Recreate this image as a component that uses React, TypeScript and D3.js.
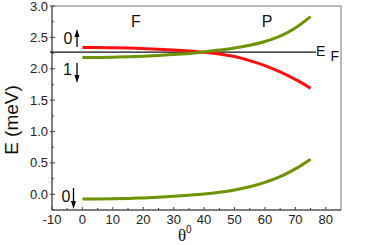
import * as d3 from "d3";

const thetas = [0, 5, 10, 15, 20, 25, 30, 35, 40, 45, 50, 55, 60, 65, 70, 75];
const redUpper = [2.34, 2.34, 2.335, 2.33, 2.322, 2.312, 2.3, 2.285, 2.265, 2.235, 2.195, 2.13, 2.05, 1.95, 1.83, 1.69];
const greenUpper = [2.18, 2.18, 2.185, 2.19, 2.2, 2.212, 2.228, 2.245, 2.268, 2.298, 2.332, 2.375, 2.435, 2.52, 2.65, 2.83];
const greenLower = [-0.075, -0.073, -0.07, -0.065, -0.057, -0.046, -0.032, -0.015, 0.005, 0.033, 0.07, 0.12, 0.19, 0.28, 0.405, 0.56];
const fermiLevel = 2.265;
const xTicks = [-10, 0, 10, 20, 30, 40, 50, 60, 70, 80];
const yTicks = [0, 0.5, 1, 1.5, 2, 2.5, 3];

const width = 371;
const height = 245;
const marginLeft = 52;
const marginRight = 30;
const marginTop = 6;
const marginBottom = 35;
const font = "'Liberation Sans', Arial, sans-serif";

// vertical arrow with a filled head at y2
function Arrow({ x, y1, y2 }: { x: number; y1: number; y2: number }) {
  const dir = y2 > y1 ? 1 : -1;
  const head = 8;
  return (
    <g>
      <line x1={x} x2={x} y1={y1} y2={y2 - dir * head} stroke="#000" strokeWidth={1.3} />
      <path
        d={`M${x - 2.5},${y2 - dir * head} L${x},${y2} L${x + 2.5},${y2 - dir * head} Z`}
        fill="#000"
      />
    </g>
  );
}

export default function App() {
  const x = d3.scaleLinear([-10, 85], [marginLeft, width - marginRight]);
  const y = d3.scaleLinear([-0.25, 3.0], [height - marginBottom, marginTop]);
  const line = d3
    .line<number>()
    .x((d, i) => x(thetas[i]))
    .y((d) => y(d))
    .curve(d3.curveCatmullRom);

  const xMinor = d3.range(-5, 85, 10);
  const yMinor = d3.range(-0.25, 3.0, 0.5);

  return (
    <svg
      width={width}
      height={height}
      style={{ position: "absolute", left: 0, top: 0 }}
      fontFamily={font}
    >
      <rect
        x={x(-10)}
        y={y(3)}
        width={x(85) - x(-10)}
        height={y(-0.25) - y(3)}
        fill="none"
        stroke="#777"
        strokeWidth={1}
      />
      <line x1={x(-10)} x2={x(-10)} y1={y(3)} y2={y(-0.25)} stroke="#444" />
      <line x1={x(-10)} x2={x(85)} y1={y(-0.25)} y2={y(-0.25)} stroke="#444" />
      {xTicks.map((t) => (
        <g key={t}>
          <line x1={x(t)} x2={x(t)} y1={y(-0.25)} y2={y(-0.25) - 3} stroke="#444" />
          <text x={x(t)} y={224} textAnchor="middle" fontSize={13} fill="#222">
            {t}
          </text>
        </g>
      ))}
      {xMinor.map((t) => (
        <line key={t} x1={x(t)} x2={x(t)} y1={y(-0.25)} y2={y(-0.25) - 2} stroke="#444" />
      ))}
      {yTicks.map((t) => (
        <g key={t}>
          <line x1={x(-10) - 2} x2={x(-10) + 3} y1={y(t)} y2={y(t)} stroke="#444" />
          <text x={48} y={y(t) + 4.5} textAnchor="end" fontSize={13} fill="#222">
            {t.toFixed(1)}
          </text>
        </g>
      ))}
      {yMinor.map((t) => (
        <line key={t} x1={x(-10)} x2={x(-10) + 2} y1={y(t)} y2={y(t)} stroke="#444" />
      ))}
      <line x1={x(-10) - 2} x2={x(76.8)} y1={y(fermiLevel)} y2={y(fermiLevel)} stroke="#111" strokeWidth={1.2} />
      <path d={line(greenLower) ?? ""} fill="none" stroke="#6f9200" strokeWidth={3} />
      <path d={line(redUpper) ?? ""} fill="none" stroke="#ff1010" strokeWidth={3} />
      <path d={line(greenUpper) ?? ""} fill="none" stroke="#6f9200" strokeWidth={3} />
      <text x={316} y={55.5} fontSize={14} fill="#111">E</text>
      <text x={330.5} y={61} fontSize={14} fill="#111">F</text>
      <text x={136} y={27} fontSize={16} textAnchor="middle" fill="#111">F</text>
      <text x={267} y={27} fontSize={16} textAnchor="middle" fill="#111">P</text>
      <text x={68} y={44} fontSize={16} textAnchor="middle" fill="#111">0</text>
      <Arrow x={77} y1={47} y2={29} />
      <text x={67.5} y={75} fontSize={16} textAnchor="middle" fill="#111">1</text>
      <Arrow x={77} y1={63} y2={83} />
      <text x={66} y={202} fontSize={16} textAnchor="middle" fill="#111">0</text>
      <Arrow x={73.5} y1={188} y2={209} />
      <text
        transform={`translate(18,120) rotate(-90)`}
        textAnchor="middle"
        fontSize={19}
        fill="#111"
      >
        E (meV)
      </text>
      <text x={178} y={241} fontSize={17} fontFamily="'Liberation Serif', 'Times New Roman', serif" fill="#111">
        θ
      </text>
      <text x={186} y={233} fontSize={10} fill="#111">0</text>
    </svg>
  );
}
